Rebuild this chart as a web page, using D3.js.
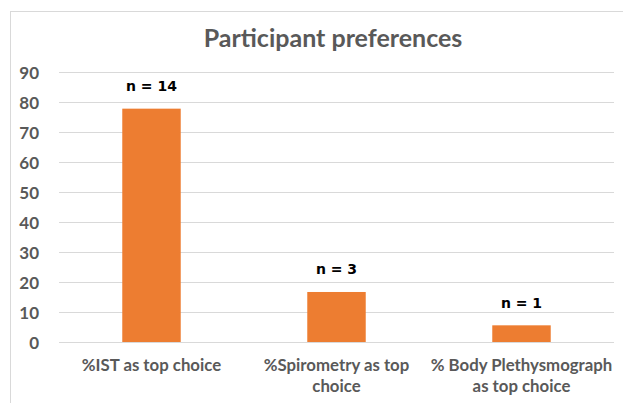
<!DOCTYPE html>
<html>
<head>
<meta charset="utf-8">
<script src="https://cdn.jsdelivr.net/npm/d3@7"></script>
<style>
  html, body { margin: 0; padding: 0; background: #fff; }
  svg { display: block; }
</style>
</head>
<body>
<svg id="chart" width="623" height="403"></svg>
<script>
// Share of participants naming each test as their top choice (%), with counts
const categories = [
  ["%IST as top choice"],
  ["%Spirometry as top", "choice"],
  ["% Body Plethysmograph", "as top choice"]
];
const percentValues = [77.78, 16.67, 5.56];
const countLabels = ["n = 14", "n = 3", "n = 1"];
const yTicks = [0, 10, 20, 30, 40, 50, 60, 70, 80, 90];
const chartTitle = "Participant preferences";

const svg = d3.select("#chart");
const font = "Lato, 'Open Sans', sans-serif";
const labelFont = "'DejaVu Sans', sans-serif";
const grey = "#595959";

// Chart frame
svg.append("rect")
  .attr("x", 10.5).attr("y", 11.5)
  .attr("width", 640).attr("height", 420)
  .attr("fill", "#fff").attr("stroke", "#d9d9d9");

const x = d3.scaleBand()
  .domain(d3.range(categories.length))
  .range([59, 614])
  .paddingInner(0.684)
  .paddingOuter(0.342);

const y = d3.scaleLinear().domain([0, 90]).range([342, 72]);

// Gridlines
svg.append("g")
  .selectAll("line")
  .data(yTicks)
  .join("line")
  .attr("x1", 59).attr("x2", 614)
  .attr("y1", d => Math.round(y(d)) + 0.5)
  .attr("y2", d => Math.round(y(d)) + 0.5)
  .attr("stroke", "#d9d9d9").attr("stroke-width", 1);

// Y axis labels
const yAxis = d3.axisLeft(y).tickValues(yTicks).tickSize(0).tickPadding(0);
const yg = svg.append("g").attr("transform", "translate(39,0.5)").call(yAxis);
yg.select(".domain").remove();
yg.selectAll("text")
  .attr("font-family", font).attr("font-size", 17).attr("font-weight", "bold")
  .attr("fill", grey).attr("text-anchor", "end").attr("dy", "0.37em");

// Bars
svg.append("g")
  .selectAll("rect")
  .data(percentValues)
  .join("rect")
  .attr("x", (d, i) => x(i))
  .attr("width", x.bandwidth())
  .attr("y", d => y(d))
  .attr("height", d => y(0) - y(d))
  .attr("fill", "#ED7D31");

// Count labels above bars
svg.append("g")
  .selectAll("text")
  .data(percentValues)
  .join("text")
  .attr("x", (d, i) => x(i) + x.bandwidth() / 2)
  .attr("y", d => y(d) - 17.5)
  .attr("text-anchor", "middle")
  .attr("font-family", labelFont).attr("font-size", 14).attr("font-weight", "bold")
  .attr("fill", "#000")
  .text((d, i) => countLabels[i]);

// Category labels
const xg = svg.append("g");
categories.forEach((lines, i) => {
  const cx = x(i) + x.bandwidth() / 2;
  const t = xg.append("text")
    .attr("x", cx)
    .attr("y", 370.5)
    .attr("text-anchor", "middle")
    .attr("font-family", font).attr("font-size", 16.8).attr("font-weight", "bold")
    .attr("fill", grey);
  lines.forEach((ln, j) => {
    t.append("tspan")
      .attr("x", cx)
      .attr("dy", j === 0 ? 0 : 21.5)
      .text(ln);
  });
});

// Title
svg.append("text")
  .attr("x", 333).attr("y", 47)
  .attr("text-anchor", "middle")
  .attr("font-family", font).attr("font-size", 25).attr("font-weight", "bold")
  .attr("fill", grey)
  .text(chartTitle);
</script>
</body>
</html>
